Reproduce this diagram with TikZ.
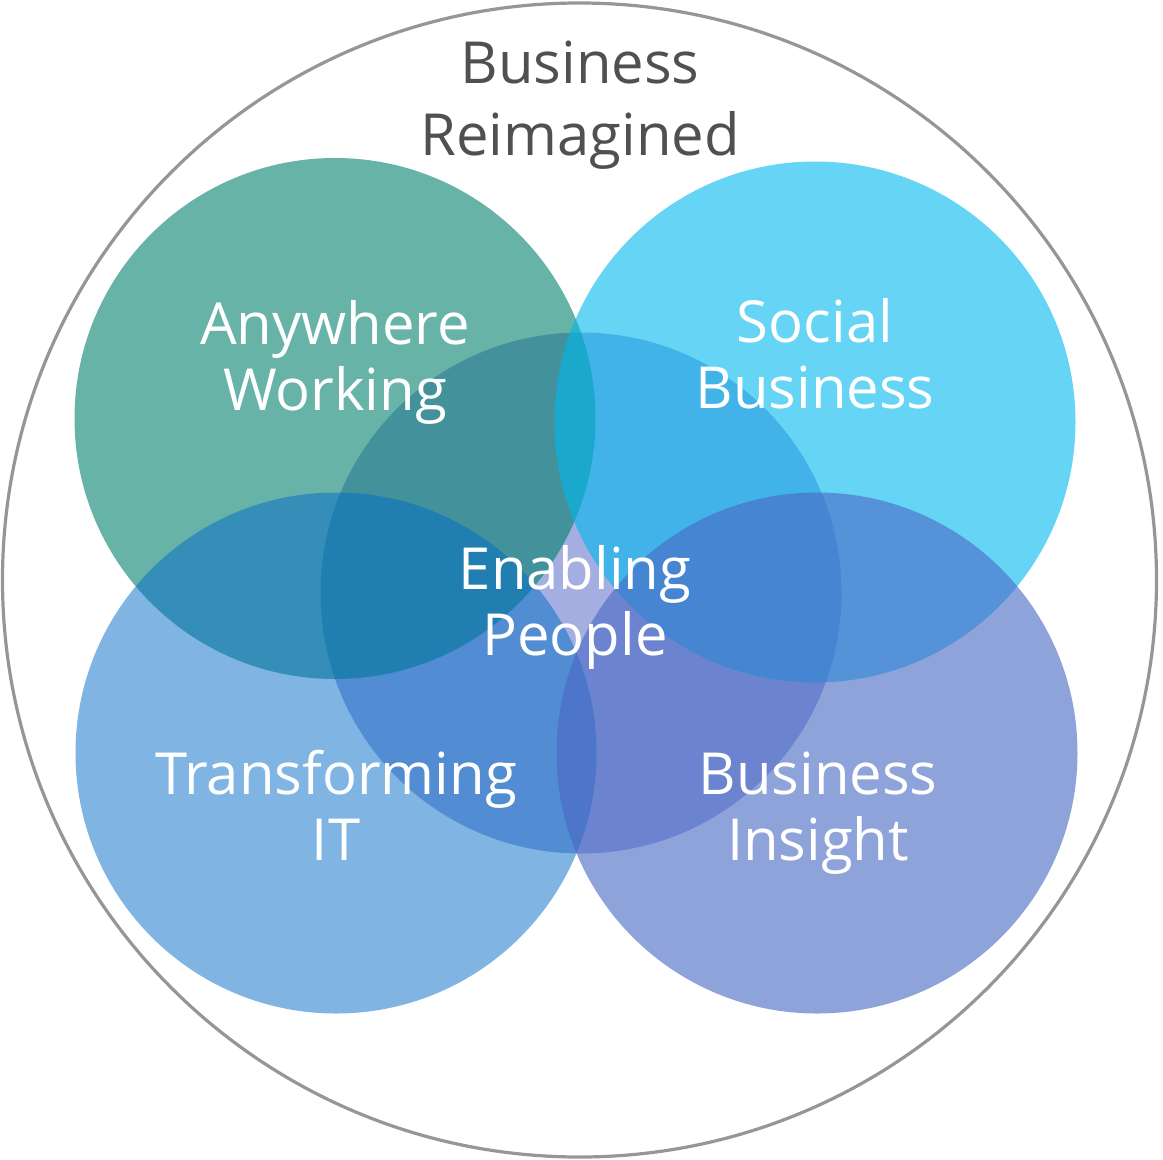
\documentclass[tikz,border=0pt]{standalone}
\usepackage{fontspec}
\setmainfont{Open Sans}
\definecolor{outerc}{RGB}{150,150,150}
\definecolor{titlec}{RGB}{80,80,80}
\definecolor{tealc}{RGB}{3,128,110}
\definecolor{cyanc}{RGB}{0,183,238}
\definecolor{blc}{RGB}{1,107,199}
\definecolor{brc}{RGB}{74,106,197}
\definecolor{cenc}{RGB}{165,174,224}
\begin{document}
\begin{tikzpicture}[x=1pt,y=-1pt,
  venn/.style={circle, inner sep=0pt, minimum size=521pt, draw=none},
  lbl/.style={text=white, font=\fontsize{58}{66}\selectfont, align=center, anchor=base},
  ttl/.style={text=titlec, font=\fontsize{58}{72}\selectfont, align=center, anchor=base}]
\useasboundingbox (0,0) rectangle (1163,1160);
\node[circle, inner sep=0pt, minimum size=1154pt, draw=outerc, line width=3.2pt] (outer) at (579.5,580) {};
\node[venn, fill=cenc] (cen) at (581,593) {};
\node[venn, fill=tealc, fill opacity=0.6] (tl) at (335,418.5) {};
\node[venn, fill=cyanc, fill opacity=0.6] (tr) at (815,422) {};
\node[venn, fill=blc, fill opacity=0.5] (bl) at (336,753) {};
\node[venn, fill=brc, fill opacity=0.62] (br) at (817,753) {};
\node[ttl] (title) at (580,155) {Business\\Reimagined};
\node[lbl] (ltl) at (335,410) {Anywhere\\Working};
\node[lbl] (ltr) at (815,408) {Social\\Business};
\node[lbl] (lcen) at (575,655) {Enabling\\People};
\node[lbl] (lbl) at (336,860) {Transforming\\IT};
\node[lbl] (lbr) at (818,860) {Business\\Insight};
\end{tikzpicture}
\end{document}
